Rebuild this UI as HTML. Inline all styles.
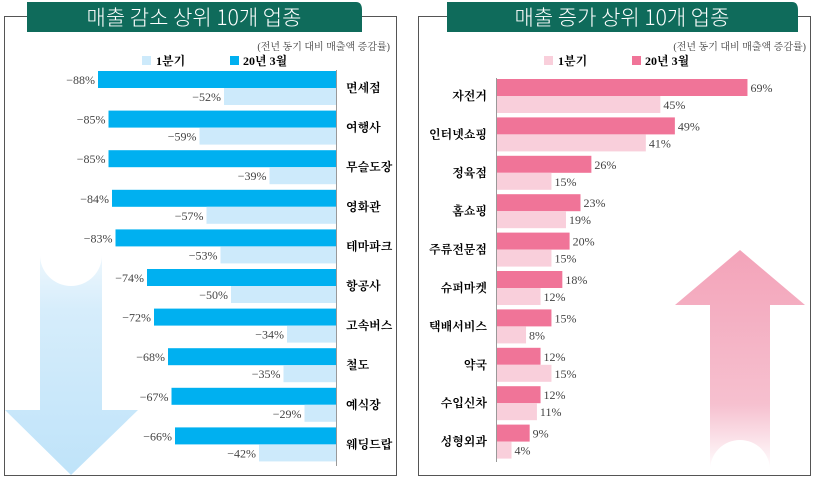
<!DOCTYPE html>
<html><head><meta charset="utf-8"><style>
body{margin:0;width:814px;height:480px;background:#fff;overflow:hidden;font-family:"Liberation Serif","Noto Serif CJK SC","Noto Sans CJK KR",serif}
svg text{font-family:"Liberation Serif","Noto Serif CJK SC","Noto Sans CJK KR",serif}
</style></head><body>
<svg width="814" height="480">
<defs>
<linearGradient id="gb" x1="0" y1="0" x2="0" y2="1"><stop offset="0" stop-color="#eef7fd"/><stop offset="0.25" stop-color="#d6edfb"/><stop offset="1" stop-color="#bfe3f9"/></linearGradient>
<linearGradient id="gp" x1="0" y1="0" x2="0" y2="1"><stop offset="0" stop-color="#f3a3b9"/><stop offset="0.7" stop-color="#f6c0cf"/><stop offset="1" stop-color="#fff"/></linearGradient>
</defs>
<rect x="4.5" y="16.5" width="392" height="459" fill="none" stroke="#555"/>
<rect x="418.5" y="16.5" width="392" height="459" fill="none" stroke="#555"/>
<path d="M5,410 L40,410 L40,255 A31,31 0 0 0 102,255 L102,410 L138,410 L71,475 Z" fill="url(#gb)"/>
<path d="M675,305 L740,250 L805,305 L770,305 L770,470 A30,30 0 0 0 710,470 L710,305 Z" fill="url(#gp)"/>
<path d="M27,2 L356,2 Q362,2 362,10 L362,32 L27,32 Z" fill="#0f6b5b"/>
<text x="194" y="25" text-anchor="middle" font-size="21" font-weight="300" fill="#fff" style="font-family:'Noto Sans CJK KR',sans-serif">매출 감소 상위 10개 업종</text>
<path d="M447,2 L792,2 Q798,2 798,10 L798,32 L447,32 Z" fill="#0f6b5b"/>
<text x="622" y="25" text-anchor="middle" font-size="21" font-weight="300" fill="#fff" style="font-family:'Noto Sans CJK KR',sans-serif">매출 증가 상위 10개 업종</text>
<text x="390" y="50" text-anchor="end" font-size="10" fill="#444">(전년 동기 대비 매출액 증감률)</text>
<text x="806" y="50" text-anchor="end" font-size="10" fill="#444">(전년 동기 대비 매출액 증감률)</text>
<rect x="142" y="56" width="9" height="9" fill="#cdeafb"/>
<text x="156" y="65" font-size="12" font-weight="bold">1분기</text>
<rect x="230" y="56" width="9" height="9" fill="#00b0f0"/>
<text x="243" y="65" font-size="12" font-weight="bold">20년 3월</text>
<rect x="544" y="56" width="9" height="9" fill="#f9cfdb"/>
<text x="558" y="65" font-size="12" font-weight="bold">1분기</text>
<rect x="632" y="56" width="9" height="9" fill="#f07498"/>
<text x="645" y="65" font-size="12" font-weight="bold">20년 3월</text>
<line x1="336.5" y1="70" x2="336.5" y2="466" stroke="#999"/>
<line x1="496.5" y1="78" x2="496.5" y2="462" stroke="#999"/>
<g id="L"></g><g id="R"></g>
</svg>
<script>
const decCats=['면세점','여행사','무슬도장','영화관','테마파크','항공사','고속버스','철도','예식장','웨딩드랍'];
const decMarch=[88,85,85,84,83,74,72,68,67,66];
const decQ1=[52,59,39,57,53,50,34,35,29,42];
const incCats=['자전거','인터넷쇼핑','정육점','홈쇼핑','주류전문점','슈퍼마켓','택배서비스','약국','수입신차','성형외과'];
const incMarch=[69,49,26,23,20,18,15,12,12,9];
const incQ1=[45,41,15,19,15,12,8,15,11,4];
const NS='http://www.w3.org/2000/svg';
function mk(tag,a,p){const e=document.createElementNS(NS,tag);for(const k in a)e.setAttribute(k,a[k]);p.appendChild(e);return e;}
const L=document.getElementById('L'),R=document.getElementById('R');
const xl=v=>3.5*(v-20);
decCats.forEach((c,i)=>{
  const y=71+i*39.6;
  const w1=xl(decMarch[i]);
  const b1=mk('rect',{x:336-w1,y:y,width:w1,height:17,fill:'#00b0f0'},L);
  
  
  const t1=mk('text',{x:333-w1,y:y+13,'text-anchor':'end','font-size':12,fill:'#444'},L);t1.textContent='−'+decMarch[i]+'%';
  
  
  const w2=xl(decQ1[i]);
  const b2=mk('rect',{x:336-w2,y:y+17,width:w2,height:17,fill:'#cdeafb'},L);
  
  
  const t2=mk('text',{x:333-w2,y:y+30,'text-anchor':'end','font-size':12,fill:'#444'},L);t2.textContent='−'+decQ1[i]+'%';
  
  
  const ct=mk('text',{x:346,y:y+21,'font-size':12,'font-weight':'bold'},L);ct.textContent=c;
  
  
});
const xr=v=>3.63*v;
incCats.forEach((c,i)=>{
  const y=79+i*38.4;
  const w1=xr(incMarch[i]);
  const b1=mk('rect',{x:497,y:y,width:w1,height:17,fill:'#f07498'},R);
  
  
  const t1=mk('text',{x:500+w1,y:y+13,'font-size':12,fill:'#444'},R);t1.textContent=incMarch[i]+'%';
  
  
  const w2=xr(incQ1[i]);
  const b2=mk('rect',{x:497,y:y+17,width:w2,height:17,fill:'#f9cfdb'},R);
  
  
  const t2=mk('text',{x:500+w2,y:y+30,'font-size':12,fill:'#444'},R);t2.textContent=incQ1[i]+'%';
  
  
  const ct=mk('text',{x:487,y:y+21,'text-anchor':'end','font-size':12,'font-weight':'bold'},R);ct.textContent=c;
  
  
});
</script>
</body></html>
